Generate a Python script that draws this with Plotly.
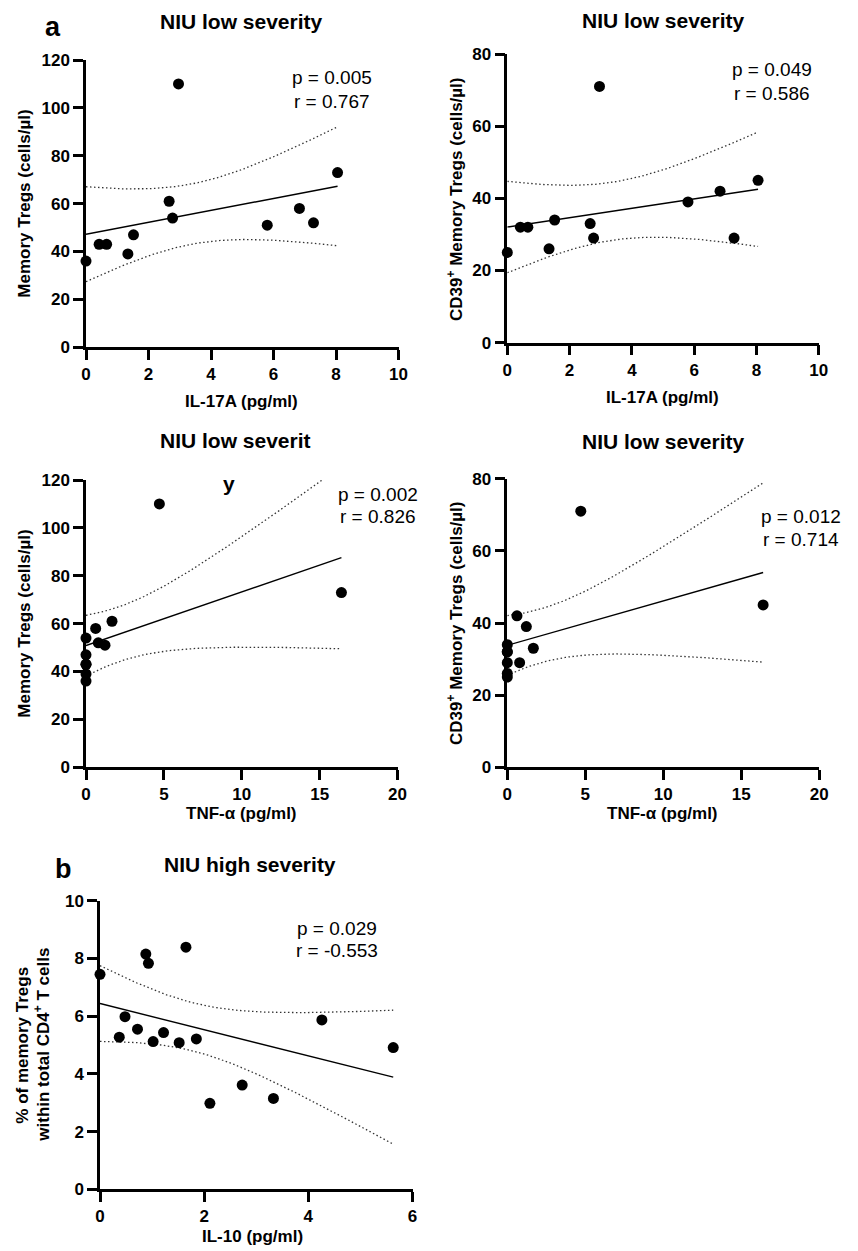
import numpy as np
import plotly.graph_objects as go

# ---------------- data ----------------
il17a = [0, 0.42, 0.66, 1.34, 1.52, 2.66, 2.77, 2.96, 5.80, 6.83, 7.28, 8.05]
tnf_alpha = [0, 0, 0, 0, 0, 1.67, 0, 4.71, 1.22, 0.62, 0.79, 16.4]
memory_tregs = [36, 43, 43, 39, 47, 61, 54, 110, 51, 58, 52, 73]
cd39_memory_tregs = [25, 32, 32, 26, 34, 33, 29, 71, 39, 42, 29, 45]

il10 = [0, 0.37, 0.48, 0.72, 0.88, 0.93, 1.02, 1.22, 1.52, 1.65, 1.85, 2.11, 2.73, 3.33, 4.26, 5.63]
pct_memory_tregs = [7.45, 5.27, 5.98, 5.55, 8.15, 7.83, 5.12, 5.43, 5.08, 8.39, 5.21, 2.98, 3.61, 3.15, 5.87, 4.91]

ticks_il17a = [0, 2, 4, 6, 8, 10]
ticks_tnf = [0, 5, 10, 15, 20]
ticks_il10 = [0, 2, 4, 6]
ticks_tregs = [0, 20, 40, 60, 80, 100, 120]
ticks_cd39 = [0, 20, 40, 60, 80]
ticks_pct = [0, 2, 4, 6, 8, 10]

p_values = ["0.005", "0.049", "0.002", "0.012", "0.029"]
r_values = ["0.767", "0.586", "0.826", "0.714", "-0.553"]
titles = ["NIU low severity", "NIU low severity", "NIU low severit", "NIU low severity", "NIU high severity"]

T975 = {10: 2.228, 14: 2.145}

OFF = 8  # page body margin of the html page
W, H = 858 - OFF, 1251 - OFF
FONT = "Liberation Sans, Arial, sans-serif"


def fit_band(x, y):
    x = np.asarray(x, float)
    y = np.asarray(y, float)
    n = len(x)
    b, a = np.polyfit(x, y, 1)
    res = y - (a + b * x)
    s = np.sqrt(np.sum(res ** 2) / (n - 2))
    xm = x.mean()
    sxx = np.sum((x - xm) ** 2)
    xs = np.linspace(x.min(), x.max(), 120)
    yh = a + b * xs
    hw = T975[n - 2] * s * np.sqrt(1.0 / n + (xs - xm) ** 2 / sxx)
    return xs, yh, yh - hw, yh + hw


def fx(px):
    return (px - OFF) / W


def fy(py):
    return 1 - (py - OFF) / H


# panel geometry in page pixels: (x0, x1, ytop, ybottom)
geo = [
    (86, 398.5, 60, 347.3),
    (507.3, 818.8, 54, 342.7),
    (86, 397.5, 480, 767.3),
    (507.3, 819.3, 478.7, 767.3),
    (100, 412.5, 900.7, 1189.3),
]
panels = [
    (il17a, memory_tregs, ticks_il17a, ticks_tregs),
    (il17a, cd39_memory_tregs, ticks_il17a, ticks_cd39),
    (tnf_alpha, memory_tregs, ticks_tnf, ticks_tregs),
    (tnf_alpha, cd39_memory_tregs, ticks_tnf, ticks_cd39),
    (il10, pct_memory_tregs, ticks_il10, ticks_pct),
]

fig = go.Figure()
layout = {}
for i, ((x, y, xt, yt), (gx0, gx1, gyt, gyb)) in enumerate(zip(panels, geo)):
    k = "" if i == 0 else str(i + 1)
    xa, ya = "x" + k, "y" + k
    xs, yh, lo, hi = fit_band(x, y)
    for yy, dash, w, col in [(lo, "1.5px,2.5px", 1.3, "#333333"),
                             (hi, "1.5px,2.5px", 1.3, "#333333"),
                             (yh, "solid", 1.4, "black")]:
        fig.add_trace(go.Scatter(x=xs, y=yy, mode="lines", xaxis=xa, yaxis=ya,
                                 line=dict(color=col, width=w, dash=dash),
                                 showlegend=False, hoverinfo="skip", cliponaxis=False))
    fig.add_trace(go.Scatter(x=x, y=y, mode="markers", xaxis=xa, yaxis=ya,
                             marker=dict(color="black", size=11, line=dict(width=0)),
                             showlegend=False, cliponaxis=False))
    layout["xaxis" + k] = dict(range=[xt[0], xt[-1]], tickmode="array", tickvals=xt,
                               ticktext=["<b>%g</b>" % v for v in xt], anchor=ya,
                               domain=[fx(gx0), fx(gx1)])
    layout["yaxis" + k] = dict(range=[yt[0], yt[-1]], tickmode="array", tickvals=yt,
                               ticktext=["<b>%g</b>" % v for v in yt], anchor=xa,
                               domain=[fy(gyb), fy(gyt)])

fig.update_layout(template="none")
fig.update_layout(**layout)
axstyle = dict(showgrid=False, zeroline=False, showline=True, linecolor="black",
               linewidth=2.5, ticks="outside", ticklen=10, tickwidth=2.5,
               tickcolor="black", automargin=False,
               tickfont=dict(family=FONT, size=17, color="black"))
fig.update_xaxes(**axstyle)
fig.update_yaxes(**axstyle)
fig.update_layout(width=W, height=H, margin=dict(l=0, r=0, t=0, b=0, pad=0, autoexpand=False),
                  plot_bgcolor="white", paper_bgcolor="white", showlegend=False,
                  font=dict(family=FONT, color="black"))


def ann(text, px, py, size=17, bold=False, angle=0):
    if bold:
        text = "<b>" + text + "</b>"
    fig.add_annotation(text=text, x=fx(px), y=fy(py), xref="paper", yref="paper",
                       showarrow=False, textangle=angle, xanchor="center", yanchor="middle",
                       font=dict(family=FONT, size=size, color="black"))


# titles
title_pos = [(241.7, 21.7), (663.3, 20.7), (235.8, 440.7), (663.3, 441.7), (250, 864)]
for t, (px, py) in zip(titles, title_pos):
    ann(t, px, py, size=21, bold=True)
ann("y", 228.7, 483.3, size=21, bold=True)

# panel letters
ann("a", 52.5, 27, size=27, bold=True)
ann("b", 63, 869, size=27, bold=True)

# p / r annotations
pr_pos = [(331.5, 78, 101.7), (772, 69.3, 93.3), (377.5, 495, 516.7),
          (801, 516.7, 539.3), (337, 928.3, 950)]
for pv, rv, (px, py1, py2) in zip(p_values, r_values, pr_pos):
    ann("p = " + pv, px, py1, size=19)
    ann("r = " + rv, px, py2, size=19)

# x axis titles
ann("IL-17A (pg/ml)", 241, 401.7, bold=True)
ann("IL-17A (pg/ml)", 662, 397, bold=True)
ann("TNF-α (pg/ml)", 241, 813, bold=True)
ann("TNF-α (pg/ml)", 662, 813, bold=True)
ann("IL-10 (pg/ml)", 252, 1236.7, bold=True)

# y axis titles
ann("Memory Tregs (cells/µl)", 25, 203.7, bold=True, angle=-90)
ann("CD39<sup>+</sup> Memory Tregs (cells/µl)", 455, 199, bold=True, angle=-90)
ann("Memory Tregs (cells/µl)", 25, 623.7, bold=True, angle=-90)
ann("CD39<sup>+</sup> Memory Tregs (cells/µl)", 455, 623, bold=True, angle=-90)
ann("% of memory Tregs", 21.7, 1045, bold=True, angle=-90)
ann("within total CD4<sup>+</sup> T cells", 41.7, 1045, bold=True, angle=-90)

fig.write_html("out.html")
